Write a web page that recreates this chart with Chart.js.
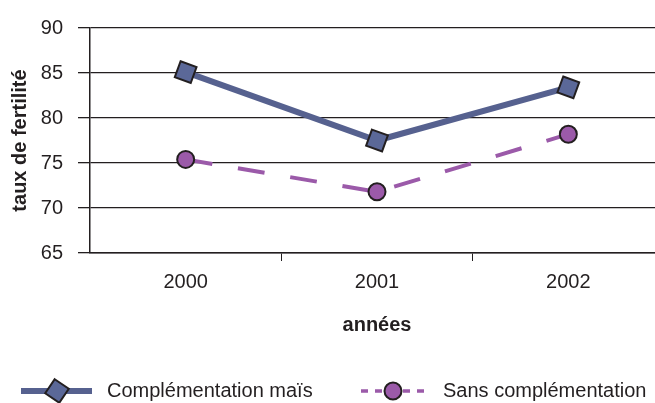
<!DOCTYPE html>
<html><head><meta charset="utf-8">
<script src="https://cdn.jsdelivr.net/npm/chart.js@4"></script>
<style>html,body{margin:0;padding:0;background:#fff;overflow:hidden;width:655px;height:403px}canvas{display:block}</style>
</head><body>
<canvas id="c" width="678" height="403"></canvas>
<script>
const years = ['2000', '2001', '2002'];
const complementationMais = [85.1, 77.5, 83.4];
const sansComplementation = [75.4, 71.8, 78.2];
const yTicks = [65, 70, 75, 80, 85, 90];
const seriesNames = ['Complémentation maïs', 'Sans complémentation'];

const FONT = "'Liberation Sans', Arial, sans-serif";
const INK = '#231f20';

const legendPlugin = {
  id: 'lineLegend',
  afterDraw(chart) {
    const ctx = chart.ctx;
    const y = 391;
    const items = [
      {x0: 21, x1: 92, mx: 57, tx: 107, ds: chart.data.datasets[0], dash: [], lw: 6},
      {x0: 361, x1: 431, mx: 393, tx: 443, ds: chart.data.datasets[1], dash: [7, 7], lw: 3.5}
    ];
    items.forEach(it => {
      ctx.save();
      ctx.strokeStyle = it.ds.borderColor;
      ctx.lineWidth = it.lw;
      ctx.setLineDash(it.dash);
      ctx.beginPath(); ctx.moveTo(it.x0, y); ctx.lineTo(it.x1, y); ctx.stroke();
      ctx.setLineDash([]);
      ctx.fillStyle = it.ds.pointBackgroundColor;
      ctx.strokeStyle = it.ds.pointBorderColor;
      ctx.lineWidth = it.ds.pointBorderWidth;
      Chart.helpers.drawPoint(ctx, {pointStyle: it.ds.pointStyle, rotation: (it.ds.pointRotation || 0) + 14, borderWidth: it.ds.pointBorderWidth, radius: it.ds.pointRadius}, it.mx, y);
      ctx.fillStyle = INK;
      ctx.font = '20px ' + FONT;
      ctx.textBaseline = 'middle';
      ctx.textAlign = 'left';
      ctx.fillText(it.ds.label, it.tx, y);
      ctx.restore();
    });
  }
};

new Chart(document.getElementById('c'), {
  type: 'line',
  data: {
    labels: years,
    datasets: [
      {
        label: seriesNames[0],
        data: complementationMais,
        borderColor: '#56618f',
        borderWidth: 6,
        pointStyle: 'rect',
        pointRotation: 20,
        pointRadius: 12,
        pointBackgroundColor: '#5b6898',
        pointBorderColor: INK,
        pointBorderWidth: 2,
        tension: 0
      },
      {
        label: seriesNames[1],
        data: sansComplementation,
        borderColor: '#9b5aa9',
        borderWidth: 4,
        borderDash: [27, 26],
        pointStyle: 'circle',
        pointRadius: 8.5,
        pointBackgroundColor: '#9b5aa9',
        pointBorderColor: INK,
        pointBorderWidth: 2,
        tension: 0
      }
    ]
  },
  options: {
    responsive: false,
    animation: false,
    layout: {padding: {left: 0, top: 28, right: 0, bottom: 66}},
    plugins: {legend: {display: false}, tooltip: {enabled: false}},
    scales: {
      x: {
        offset: true,
        afterFit: axis => { axis.height = 84; },
        grid: {
          offset: true,
          drawOnChartArea: false,
          drawTicks: true,
          tickLength: 8,
          color: c => (c.index === 0 || c.index === 3) ? 'rgba(0,0,0,0)' : INK,
          lineWidth: 1
        },
        border: {display: true, color: INK, width: 1.5},
        ticks: {color: INK, font: {family: FONT, size: 20}, padding: 9, maxRotation: 0},
        title: {display: true, text: 'années', color: INK, font: {family: FONT, size: 20, weight: 'bold'}, padding: {top: 10, bottom: 0}}
      },
      y: {
        min: 65,
        max: 90,
        afterFit: axis => { axis.width = 90; },
        afterBuildTicks: axis => { axis.ticks = yTicks.map(v => ({value: v})); },
        grid: {color: INK, lineWidth: 1.3, tickLength: 12, drawTicks: true},
        border: {display: true, color: INK, width: 1.5},
        ticks: {color: INK, font: {family: FONT, size: 20}, padding: 15},
        title: {display: true, text: 'taux de fertilité', color: INK, font: {family: FONT, size: 20, weight: 'bold'}, padding: {top: 8, bottom: 8}}
      }
    }
  },
  plugins: [legendPlugin]
});
</script>
</body></html>
